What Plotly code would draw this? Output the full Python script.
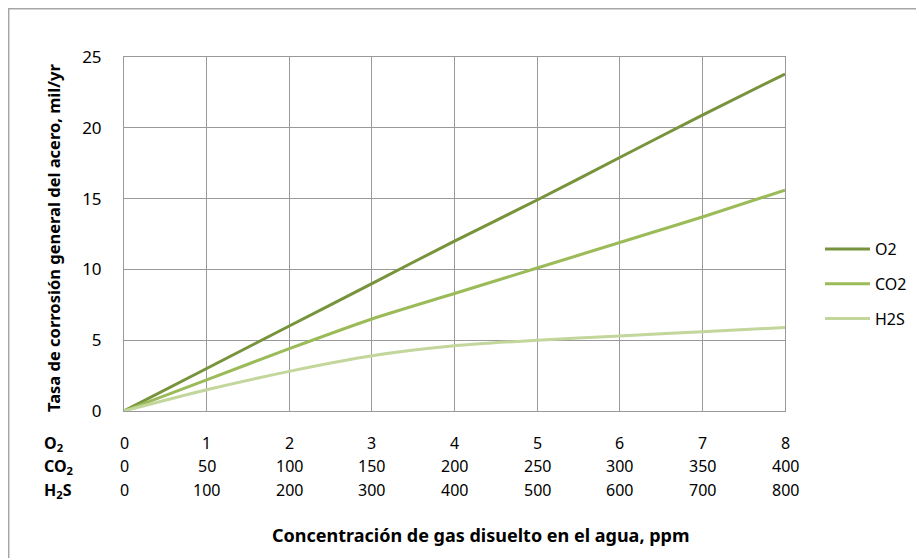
import plotly.graph_objects as go

x_idx = [0, 1, 2, 3, 4, 5, 6, 7, 8]
o2_vals = [0, 3.0, 6.0, 9.0, 12.0, 14.9, 17.9, 20.9, 23.8]
co2_vals = [0, 2.2, 4.4, 6.5, 8.3, 10.1, 11.9, 13.7, 15.6]
h2s_vals = [0, 1.5, 2.8, 3.9, 4.6, 5.0, 5.3, 5.6, 5.9]

o2_ticks = ["0", "1", "2", "3", "4", "5", "6", "7", "8"]
co2_ticks = ["0", "50", "100", "150", "200", "250", "300", "350", "400"]
h2s_ticks = ["0", "100", "200", "300", "400", "500", "600", "700", "800"]
row_labels = ["O<sub>2</sub>", "CO<sub>2</sub>", "H<sub>2</sub>S"]

series = [("O2", o2_vals, "#77933C"), ("CO2", co2_vals, "#9BBB59"), ("H2S", h2s_vals, "#C3D69B")]

FONT = "Noto Sans"
OFF = 8  # page body margin
W, H = 924 - OFF, 558 - OFF
# desired window coordinates of plot area
L, R, T, B = 124, 785, 57, 411

fig = go.Figure()
for name, vals, col in series:
    fig.add_trace(go.Scatter(x=x_idx, y=vals, name=name, mode="lines",
                             line=dict(color=col, width=3, shape="spline", smoothing=0.6),
                             legendgroup=name))

pw, ph = R - L, B - T
def px(xp):
    return (xp - L) / pw
def py(yp):
    return (B - yp) / ph

annotations = []
rows = [(o2_ticks, 443), (co2_ticks, 466), (h2s_ticks, 490)]
for (ticks, ypix), lab in zip(rows, row_labels):
    for xv, t in zip(x_idx, ticks):
        annotations.append(dict(x=xv, y=py(ypix), xref="x", yref="paper", text=t,
                                showarrow=False, xanchor="center", yanchor="middle",
                                font=dict(family=FONT, size=16, color="#000")))
    annotations.append(dict(x=px(42), y=py(ypix), xref="paper", yref="paper",
                            text="<b>" + lab + "</b>", showarrow=False,
                            xanchor="left", yanchor="middle",
                            font=dict(family=FONT, size=16, color="#000")))

annotations.append(dict(x=px(481), y=py(535), xref="paper", yref="paper",
                        text="<b>Concentración de gas disuelto en el agua, ppm</b>",
                        showarrow=False, xanchor="center", yanchor="middle",
                        font=dict(family=FONT, size=18, color="#000")))
annotations.append(dict(x=px(53), y=py(238), xref="paper", yref="paper",
                        text="<b>Tasa de corrosión general del acero, mil/yr</b>",
                        showarrow=False, textangle=-90, xanchor="center", yanchor="middle",
                        font=dict(family=FONT, size=16.5, color="#000")))

shapes = [
    dict(type="line", xref="paper", yref="paper", x0=px(8.7), x1=px(8.7), y0=py(7.7), y1=py(600),
         line=dict(color="#A6A6A6", width=1.5)),
    dict(type="line", xref="paper", yref="paper", x0=px(8.7), x1=px(960), y0=py(8.7), y1=py(8.7),
         line=dict(color="#A6A6A6", width=1.5)),
]

fig.update_layout(
    width=W, height=H,
    margin=dict(l=L - OFF, r=W - (R - OFF), t=T - OFF, b=H - (B - OFF), pad=0, autoexpand=False),
    paper_bgcolor="white", plot_bgcolor="white",
    font=dict(family=FONT, size=16, color="#000"),
    xaxis=dict(range=[0, 8], tickvals=x_idx, showticklabels=False, showgrid=True,
               gridcolor="#999999", gridwidth=1, showline=True, linecolor="#999999",
               mirror=True, zeroline=False, ticks=""),
    yaxis=dict(range=[0, 25], dtick=5, showgrid=True, gridcolor="#999999", gridwidth=1,
               showline=True, linecolor="#999999", mirror=True, zeroline=False,
               ticks="", ticklabelstandoff=18, tickfont=dict(family=FONT, size=17, color="#000")),
    legend=dict(x=px(820), y=py(232), xanchor="left", yanchor="top",
                font=dict(family=FONT, size=16, color="#000"), itemwidth=45,
                tracegroupgap=11, traceorder="grouped", bgcolor="rgba(0,0,0,0)"),
    annotations=annotations, shapes=shapes,
)

fig.write_html("out.html")
